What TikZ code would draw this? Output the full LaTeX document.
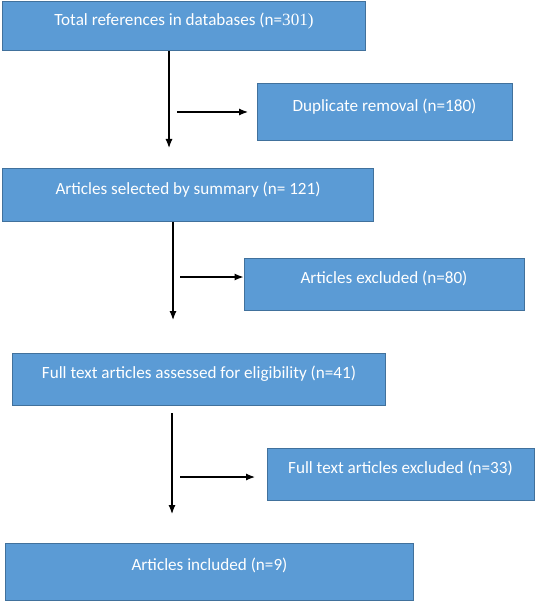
\documentclass[tikz,border=0pt]{standalone}
\usepackage{fontspec}
\setmainfont{Carlito}
\newfontfamily\serifnum{Liberation Serif}
\usetikzlibrary{arrows.meta,calc}
\definecolor{boxfill}{HTML}{5B9BD5}
\definecolor{boxline}{HTML}{41719C}
\tikzset{
  box/.style={draw=boxline, line width=1bp, fill=boxfill, text=white, rectangle,
    inner sep=0pt, font=\fontsize{17.2}{19}\selectfont, text height=12pt, text depth=14pt},
  arr/.style={-{Latex[length=9bp,width=7bp]}, line width=1.2bp, black}
}
\begin{document}
\begin{tikzpicture}[x=1bp,y=-1bp]
\useasboundingbox (0,0) rectangle (536,603);
\node[box, minimum width=362bp, minimum height=49bp] (b1) at (184,26.5) {Total references in databases (n={\serifnum 301)}};
\node[box, minimum width=255bp, minimum height=57bp] (b2) at (384.5,112.5) {Duplicate removal (n=180)};
\node[box, minimum width=370bp, minimum height=52bp] (b3) at (188,195) {Articles selected by summary (n= 121)};
\node[box, minimum width=280bp, minimum height=52bp] (b4) at (384,284) {Articles excluded (n=80)};
\node[box, minimum width=372bp, minimum height=52bp] (b5) at (199,379) {Full text articles assessed for eligibility (n=41)};
\node[box, minimum width=267bp, minimum height=52bp] (b6) at (400.5,474) {Full text articles excluded (n=33)};
\node[box, minimum width=407bp, minimum height=57bp] (b7) at (209.5,571.5) {Articles included (n=9)};
\coordinate (a1s) at (169,51);
\coordinate (a1e) at (169,148);
\coordinate (h1s) at (177,112);
\coordinate (h1e) at (248,112);
\coordinate (a2s) at (173,221);
\coordinate (a2e) at (173,320);
\coordinate (h2s) at (180,277);
\coordinate (h2e) at (b4.west |- h2s);
\coordinate (a3s) at (172,413);
\coordinate (a3e) at (172,514);
\coordinate (h3s) at (180,477);
\coordinate (h3e) at (255,477);
\draw[arr] (b1.south -| a1s) -- (a1e);
\draw[arr] (h1s) -- (h1e);
\draw[arr] (b3.south -| a2s) -- (a2e);
\draw[arr] (h2s) -- (h2e);
\draw[arr] (a3s) -- (a3e);
\draw[arr] (h3s) -- (h3e);
\end{tikzpicture}
\end{document}
